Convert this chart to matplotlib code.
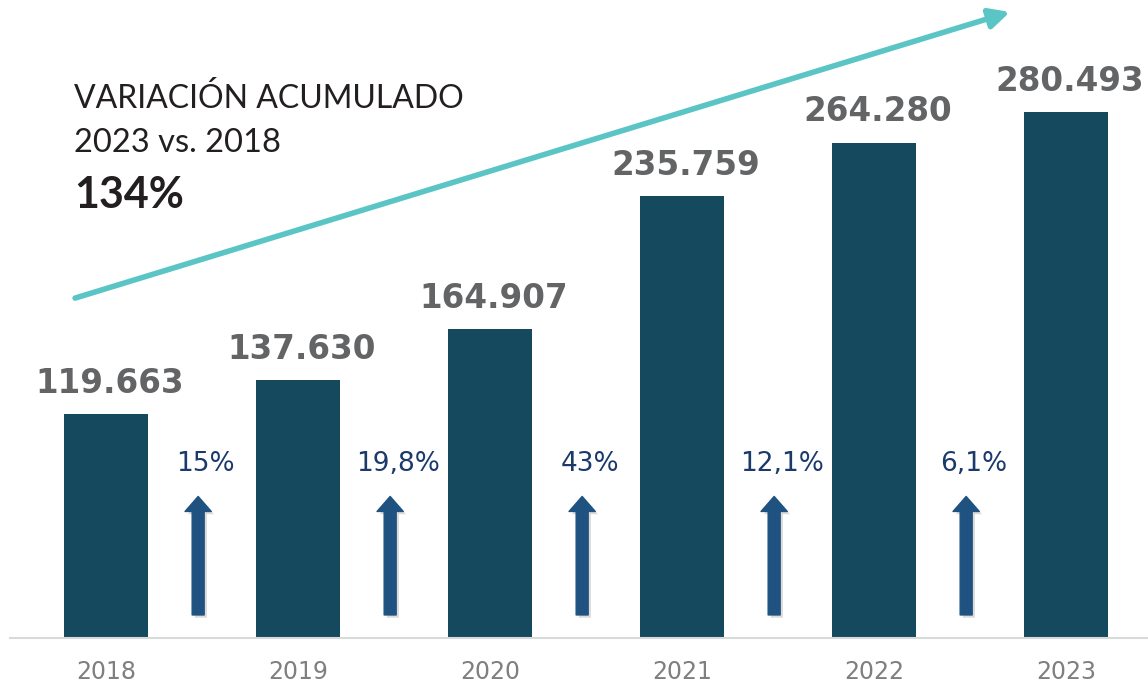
import matplotlib.pyplot as plt
import matplotlib.patheffects as pe

# datos del grafico
years = ['2018', '2019', '2020', '2021', '2022', '2023']
values = [119663, 137630, 164907, 235759, 264280, 280493]
growth = ['15%', '19,8%', '43%', '12,1%', '6,1%']

bar_color = '#15495E'
label_gray = '#636466'
arrow_blue = '#1F5280'
teal = '#5BC5C5'

fig = plt.figure(figsize=(11.48, 6.85), dpi=100)
ax = fig.add_axes([10 / 1148, 47 / 685, 1138 / 1148, 638 / 685])

x = list(range(len(years)))
ax.bar(x, values, width=0.435, color=bar_color, zorder=2)

# etiquetas de valores sobre las barras
for i, v in enumerate(values):
    ax.text(i + 0.02, v + 7500, f'{v:,}'.replace(',', '.'), ha='center', va='bottom',
            fontsize=23.5, fontweight='bold', color=label_gray, family='DejaVu Sans')

# flechas de crecimiento entre barras
for i, g in enumerate(growth):
    xm = i + 0.5
    ax.text(xm + 0.02, 92800, g, ha='center', va='center', fontsize=19,
            color='#1B3A6B', family='DejaVu Sans')
    ax.annotate('', xy=(xm - 0.02, 75500), xytext=(xm - 0.02, 12300),
                arrowprops=dict(arrowstyle='simple,head_length=0.6,head_width=1.05,tail_width=0.48',
                                mutation_scale=18, color=arrow_blue, shrinkA=0, shrinkB=0,
                                path_effects=[pe.SimplePatchShadow(offset=(2, -2), shadow_rgbFace='#999999', alpha=0.35),
                                              pe.Normal()]))

# flecha acumulada
ax.annotate('', xy=(4.708, 333900), xytext=(-0.161, 181300),
            arrowprops=dict(arrowstyle='-|>,head_length=0.8,head_width=0.4', mutation_scale=15,
                            color=teal, lw=4, shrinkA=0, shrinkB=0))

ax.set_xlim(-0.5, -0.5 + 1138 / 192)
ax.set_ylim(0, 340300)
ax.set_xticks(x)
ax.set_xticklabels(years, fontsize=17, color='#7F7F7F', family='DejaVu Sans')
ax.tick_params(axis='x', length=0, pad=16)
ax.set_yticks([])
for s in ['top', 'right', 'left']:
    ax.spines[s].set_visible(False)
ax.spines['bottom'].set_color('#D9D9D9')
ax.spines['bottom'].set_linewidth(1.5)

# texto de variacion
fig.text(74 / 1148, 1 - 98 / 685, 'VARIACIÓN ACUMULADO', fontsize=23, color='#231F20',
         family='Lato', va='center', ha='left')
fig.text(74 / 1148, 1 - 143 / 685, '2023 vs. 2018', fontsize=23.5, color='#231F20',
         family='Lato', va='center', ha='left')
fig.text(74 / 1148, 1 - 195 / 685, '134%', fontsize=31, color='#231F20',
         family='Lato', fontweight='bold', va='center', ha='left')

fig.savefig('out.png', dpi=100)
